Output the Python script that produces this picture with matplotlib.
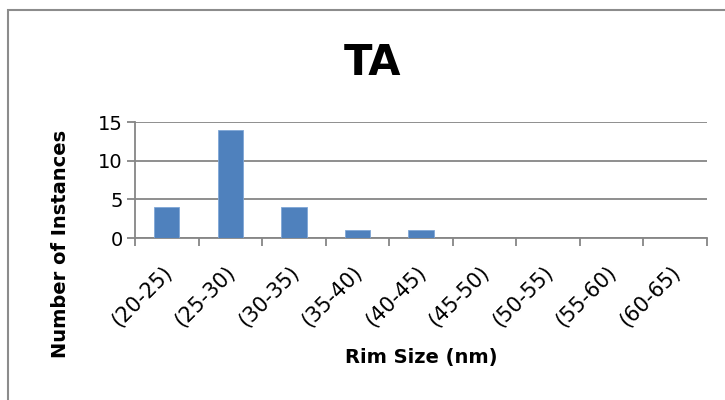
import matplotlib
matplotlib.use("Agg")
import matplotlib.pyplot as plt
from matplotlib.patches import Rectangle
from matplotlib.transforms import ScaledTranslation
import numpy as np

# rim size bins and counts
categories = ["(20-25)", "(25-30)", "(30-35)", "(35-40)", "(40-45)",
              "(45-50)", "(50-55)", "(55-60)", "(60-65)"]
counts = [4, 14, 4, 1, 1, 0, 0, 0, 0]
yticks = [0, 5, 10, 15]

plt.rcParams['font.family'] = ['DejaVu Sans']

fig = plt.figure(figsize=(7.25, 4), dpi=100)
W, H = 725, 400
ax = fig.add_axes([135 / W, 1 - 238 / H, (707 - 135) / W, (238 - 122) / H])

# chart area border
fig.patches.append(Rectangle((8 / W, -0.1), 1.2, (1 - 10 / H) + 0.1,
                             transform=fig.transFigure, fill=False,
                             edgecolor='#8c8c8c', linewidth=1.5))

x = np.arange(len(categories))
ax.bar(x, counts, width=0.4, color='#4f81bd', edgecolor='#7fa6d6',
       linewidth=0.6, zorder=3)

ax.set_xlim(-0.5, len(categories) - 0.5)
ax.set_ylim(0, 15)
ax.set_yticks(yticks)
ax.set_yticklabels([str(v) for v in yticks], fontsize=14)
ax.yaxis.grid(True, color='#868686', linewidth=1.3, zorder=0)

# category boundary ticks, labels centred between them
ax.set_xticks(np.arange(len(categories) + 1) - 0.5)
ax.set_xticklabels([])
shift = ScaledTranslation(-5 / 100, -24 / 100, fig.dpi_scale_trans)
trans = ax.get_xaxis_transform() + shift
for xi, cat in zip(x, categories):
    ax.text(xi, 0, cat, transform=trans, rotation=45, ha='right', va='top',
            rotation_mode='anchor', fontsize=15, clip_on=False)
ax.tick_params(axis='x', which='major', length=6, color='#868686', width=1.3)
ax.tick_params(axis='y', length=6, color='#868686', width=1.3, pad=3)

for s in ['top', 'right']:
    ax.spines[s].set_visible(False)
for s in ['left', 'bottom']:
    ax.spines[s].set_color('#868686')
    ax.spines[s].set_linewidth(1.3)

fig.text(372 / W, 1 - 63 / H, "TA", fontsize=30, fontweight='bold',
         ha='center', va='center')
fig.text(60 / W, 1 - 244 / H, "Number of Instances", fontsize=14,
         fontweight='bold', rotation=90, ha='center', va='center')
fig.text(421 / W, 1 - 358 / H, "Rim Size (nm)", fontsize=14,
         fontweight='bold', ha='center', va='center')

fig.savefig("out.png", dpi=100)
